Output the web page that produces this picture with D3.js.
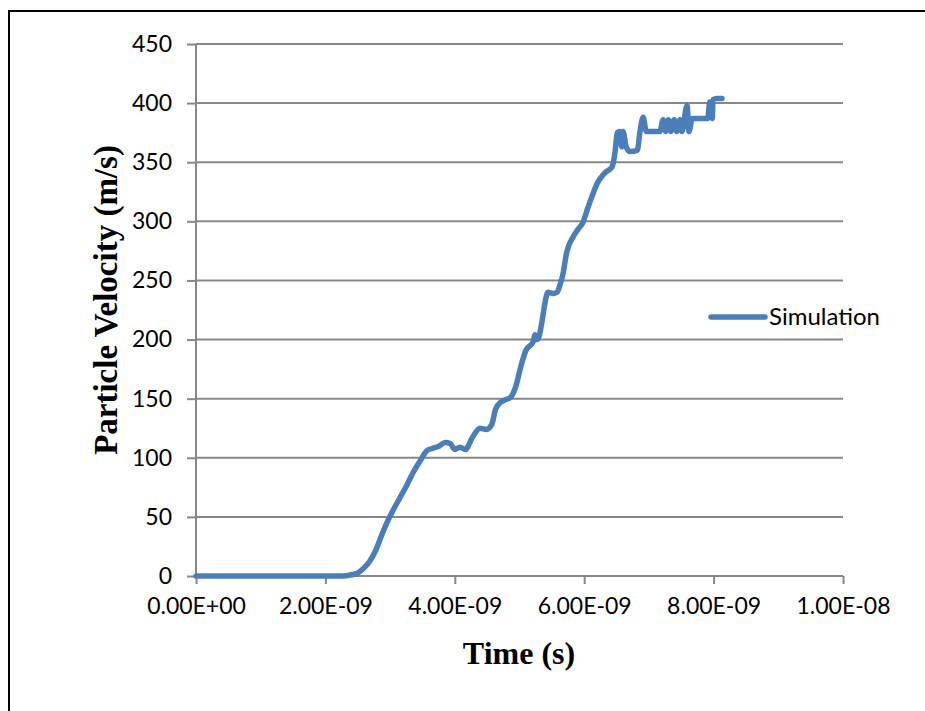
<!DOCTYPE html>
<html>
<head>
<meta charset="utf-8">
<script src="https://cdn.jsdelivr.net/npm/d3@7/dist/d3.min.js"></script>
<style>
  html, body { margin: 0; padding: 0; background: #fff; }
  svg { display: block; }
</style>
</head>
<body>
<svg id="chart" width="925" height="711"></svg>
<script>
  // time in nanoseconds, velocity in m/s
  const timeNs = [
    0, 0.5, 1.0, 1.5, 2.0, 2.2, 2.35, 2.48, 2.58, 2.68, 2.78, 2.88, 2.95, 3.04, 3.15,
    3.26, 3.36, 3.46, 3.57, 3.66, 3.76, 3.85, 3.93, 4.0, 4.08, 4.16, 4.28, 4.39, 4.49,
    4.57, 4.63, 4.71, 4.78, 4.86, 4.94, 5.02, 5.10, 5.21, 5.24, 5.28, 5.35, 5.40, 5.44,
    5.52, 5.58, 5.63, 5.67, 5.73, 5.83, 5.90, 5.98, 6.06, 6.12, 6.20, 6.32, 6.43, 6.48,
    6.51, 6.55, 6.58, 6.60, 6.65, 6.71, 6.82, 6.86, 6.91, 6.96, 7.06, 7.17, 7.22, 7.26,
    7.30, 7.34, 7.39, 7.43, 7.48, 7.51, 7.59, 7.62, 7.67, 7.91, 7.94, 7.98, 7.99, 8.05, 8.13
  ];
  const velocity = [
    0, 0, 0, 0, 0, 0, 0.5, 2, 6, 12, 22, 36, 45, 55, 66,
    77, 88, 97, 106, 108, 110, 113, 112, 107, 109, 107, 118, 125, 124,
    128, 141, 147, 149, 151, 160, 177, 191, 198, 204, 200, 216, 233, 240,
    239, 240, 247, 255, 274, 287, 293, 299, 312, 321, 332, 341, 346, 360,
    375, 376, 363, 376, 363, 359, 360, 375, 388, 376, 376, 376, 386, 376,
    386, 376, 386, 376, 386, 376, 398, 376, 387, 387, 401, 387, 403, 404, 404
  ];
  const xTicks = [0, 2e-9, 4e-9, 6e-9, 8e-9, 1e-8];
  const yTicks = [0, 50, 100, 150, 200, 250, 300, 350, 400, 450];
  const seriesName = "Simulation";

  const svg = d3.select("#chart");
  const plotL = 196, plotR = 843, plotT = 44, plotB = 576;

  const x = d3.scaleLinear().domain([0, 1e-8]).range([plotL, plotR]);
  const y = d3.scaleLinear().domain([0, 450]).range([plotB, plotT]);

  // Excel style scientific labels: 2.00E-09
  const sci = (v) => {
    if (v === 0) return "0.00E+00";
    const [m, e] = d3.format(".2e")(v).split("e");
    const n = +e;
    return m + "E" + (n < 0 ? "-" : "+") + String(Math.abs(n)).padStart(2, "0");
  };

  // outer frame
  svg.append("rect")
    .attr("x", 9).attr("y", 11)
    .attr("width", 930).attr("height", 720)
    .attr("fill", "none").attr("stroke", "#000").attr("stroke-width", 2);

  // horizontal gridlines
  svg.append("g")
    .selectAll("line")
    .data(yTicks.filter(d => d > 0))
    .join("line")
    .attr("x1", plotL).attr("x2", plotR)
    .attr("y1", d => y(d)).attr("y2", d => y(d))
    .attr("stroke", "#878787").attr("stroke-width", 2);

  const gy = svg.append("g")
    .attr("transform", `translate(${plotL},0)`)
    .call(d3.axisLeft(y).tickValues(yTicks).tickSize(9).tickPadding(15).tickFormat(d3.format("d")));

  const gx = svg.append("g")
    .attr("transform", `translate(0,${plotB})`)
    .call(d3.axisBottom(x).tickValues(xTicks).tickSize(8).tickPadding(14).tickFormat(sci));

  [gx, gy].forEach(g => {
    g.select(".domain").attr("stroke", "#878787").attr("stroke-width", 2);
    g.selectAll(".tick line").attr("stroke", "#878787").attr("stroke-width", 2);
    g.selectAll(".tick text")
      .attr("fill", "#000")
      .style("font-family", "Lato, 'Open Sans', sans-serif")
      .style("font-size", "23px");
  });
  gy.select(".domain").attr("d", `M0,${plotB}V${plotT}`);
  gx.select(".domain").attr("d", `M${plotL},0H${plotR}`);

  const line = d3.line()
    .x((d, i) => x(timeNs[i] * 1e-9))
    .y(d => y(d))
    .curve(d3.curveMonotoneX);

  svg.append("path")
    .datum(velocity)
    .attr("d", line)
    .attr("fill", "none")
    .attr("stroke", "#4a7ebb")
    .attr("stroke-width", 5.5)
    .attr("stroke-linejoin", "round")
    .attr("stroke-linecap", "round");

  // legend
  const lg = svg.append("g").attr("transform", "translate(711,317)");
  lg.append("line")
    .attr("x1", 0).attr("x2", 54).attr("y1", 0).attr("y2", 0)
    .attr("stroke", "#4a7ebb").attr("stroke-width", 5.5).attr("stroke-linecap", "round");
  lg.append("text")
    .attr("x", 58).attr("y", 8)
    .style("font-family", "Lato, 'Open Sans', sans-serif")
    .style("font-size", "24px")
    .text(seriesName);

  // axis titles
  svg.append("text")
    .attr("x", 519).attr("y", 664)
    .attr("text-anchor", "middle")
    .style("font-family", "'Liberation Serif', 'Times New Roman', serif")
    .style("font-weight", "bold")
    .style("font-size", "32px")
    .text("Time (s)");

  svg.append("text")
    .attr("transform", "translate(117,300) rotate(-90)")
    .attr("text-anchor", "middle")
    .style("font-family", "'Liberation Serif', 'Times New Roman', serif")
    .style("font-weight", "bold")
    .style("font-size", "33px")
    .text("Particle Velocity (m/s)");
</script>
</body>
</html>
